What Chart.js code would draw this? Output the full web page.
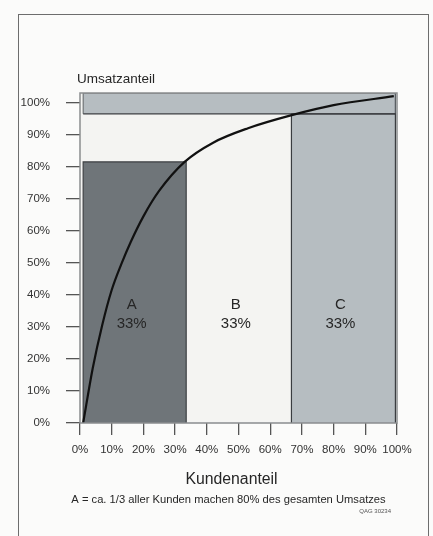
<!DOCTYPE html>
<html>
<head>
<meta charset="utf-8">
<script src="https://cdn.jsdelivr.net/npm/chart.js@4.4.1/dist/chart.umd.min.js"></script>
<style>
  html, body { margin: 0; padding: 0; background: #fbfbfa; }
  #wrap { position: relative; width: 433px; height: 536px; overflow: hidden; }
  #frame { position: absolute; left: 18px; top: 14px; width: 409px; height: 600px; border: 1.5px solid #6d6d6d; }
  canvas { position: absolute; left: 0; top: 0; }
</style>
</head>
<body>
<div id="wrap">
  <div id="frame"></div>
  <canvas id="chart" width="433" height="536"></canvas>
</div>
<script>
// ABC-Analyse: Kundenanteil (x) gegen kumulierten Umsatzanteil (y), beides in %
const classes = ['A', 'B', 'C'];
const classShares = [33, 33, 33];
const classBounds = [1, 33.5, 66.7, 99.5];
const revenueA = 81.5;
const revenueAB = 96.5;
const revenueMax = 103;

const curveX = [1, 4, 7, 10, 13, 16, 20, 25, 33, 42, 53, 66.5, 80, 99];
const curveY = [0, 17, 30.5, 41.5, 49.5, 56.5, 64.5, 72.5, 81.5, 87.5, 92, 96, 99.2, 102];

const xTicks = [0, 10, 20, 30, 40, 50, 60, 70, 80, 90, 100];
const yTicks = [0, 10, 20, 30, 40, 50, 60, 70, 80, 90, 100];

const FONT = '"Liberation Sans", Arial, Helvetica, sans-serif';

const pt = (x, y) => ({ x: x, y: y });

const datasets = [
    {
        label: 'Lorenzkurve',
        data: curveX.map((x, i) => pt(x, curveY[i])),
        borderColor: '#111',
        borderWidth: 2.2,
        cubicInterpolationMode: 'monotone',
        fill: false,
        order: 0
    },
    {
        label: 'A',
        data: [pt(classBounds[0], 0), pt(classBounds[0], revenueA), pt(classBounds[1], revenueA), pt(classBounds[1], 0)],
        borderColor: '#3a3d40',
        borderWidth: 1.2,
        backgroundColor: '#6f7579',
        fill: 'origin',
        order: 3
    },
    {
        label: 'C',
        data: [pt(classBounds[2], 0), pt(classBounds[2], revenueAB), pt(classBounds[3], revenueAB), pt(classBounds[3], 0)],
        borderColor: '#3a3d40',
        borderWidth: 1.2,
        backgroundColor: '#b6bdc1',
        fill: 'origin',
        order: 3
    },
    {
        label: 'Band',
        data: [pt(classBounds[0], revenueAB), pt(classBounds[0], revenueMax), pt(classBounds[3], revenueMax), pt(classBounds[3], revenueAB)],
        borderColor: '#5a5f62',
        borderWidth: 1,
        backgroundColor: '#b6bdc1',
        fill: { value: revenueAB },
        order: 3
    },
    {
        label: 'Grenze AB',
        data: [pt(classBounds[0], revenueAB), pt(classBounds[3], revenueAB)],
        borderColor: '#3a3d40',
        borderWidth: 1.2,
        fill: false,
        order: 2
    }
];

const decorations = {
    id: 'decorations',
    beforeDatasetsDraw(chart) {
        const { ctx, chartArea: a } = chart;
        ctx.save();
        ctx.fillStyle = '#f4f4f2';
        ctx.fillRect(a.left, a.top, a.right - a.left, a.bottom - a.top);
        ctx.restore();
    },
    afterDatasetsDraw(chart) {
        const { ctx, chartArea: a, scales: { x, y } } = chart;
        ctx.save();
        ctx.strokeStyle = '#8a8d8f';
        ctx.lineWidth = 1.5;
        ctx.strokeRect(a.left, a.top, a.right - a.left, a.bottom - a.top);

        ctx.fillStyle = '#262626';
        ctx.textAlign = 'center';
        ctx.textBaseline = 'middle';
        ctx.font = '15px ' + FONT;
        classes.forEach((c, i) => {
            const cx = x.getPixelForValue((classBounds[i] + classBounds[i + 1]) / 2) - 3;
            ctx.fillText(c, cx, y.getPixelForValue(37));
            ctx.fillText(classShares[i] + '%', cx, y.getPixelForValue(31));
        });

        ctx.textAlign = 'left';
        ctx.font = '13.5px ' + FONT;
        ctx.fillText('Umsatzanteil', a.left - 3, a.top - 14);

        ctx.textAlign = 'center';
        const mid = (a.left + a.right) / 2 - 7;
        ctx.font = '15.8px ' + FONT;
        ctx.fillText('Kundenanteil', mid, a.bottom + 57);
        ctx.font = '11.2px ' + FONT;
        ctx.fillText('A = ca. 1/3 aller Kunden machen 80% des gesamten Umsatzes', mid - 3, a.bottom + 77);

        ctx.textAlign = 'right';
        ctx.font = '6px ' + FONT;
        ctx.fillStyle = '#555';
        ctx.fillText('QAG 30234', a.right - 6, a.bottom + 88);
        ctx.restore();
    }
};

new Chart(document.getElementById('chart'), {
    type: 'line',
    data: { datasets: datasets },
    options: {
        responsive: false,
        animation: false,
        layout: { padding: { left: 21, right: 36, top: 93, bottom: 83 } },
        elements: { point: { radius: 0 }, line: { tension: 0 } },
        plugins: { legend: { display: false }, tooltip: { enabled: false } },
        scales: {
            x: {
                type: 'linear',
                min: 0,
                max: 100,
                afterFit: s => { s.height = 30; },
                afterBuildTicks: s => { s.ticks = xTicks.map(v => ({ value: v })); },
                border: { display: false },
                grid: { drawOnChartArea: false, tickLength: 12, color: '#555', lineWidth: 1.3 },
                ticks: { autoSkip: false, padding: 8, color: '#333', font: { family: FONT, size: 11.5 }, callback: v => v + '%', maxRotation: 0 }
            },
            y: {
                min: 0,
                max: revenueMax,
                afterFit: s => { s.width = 59; },
                afterBuildTicks: s => { s.ticks = yTicks.map(v => ({ value: v })); },
                border: { display: false },
                grid: { drawOnChartArea: false, tickLength: 14, color: '#555', lineWidth: 1.3 },
                ticks: { padding: 16, color: '#333', font: { family: FONT, size: 11.5 }, callback: v => v + '%' }
            }
        }
    },
    plugins: [decorations]
});
</script>
</body>
</html>
